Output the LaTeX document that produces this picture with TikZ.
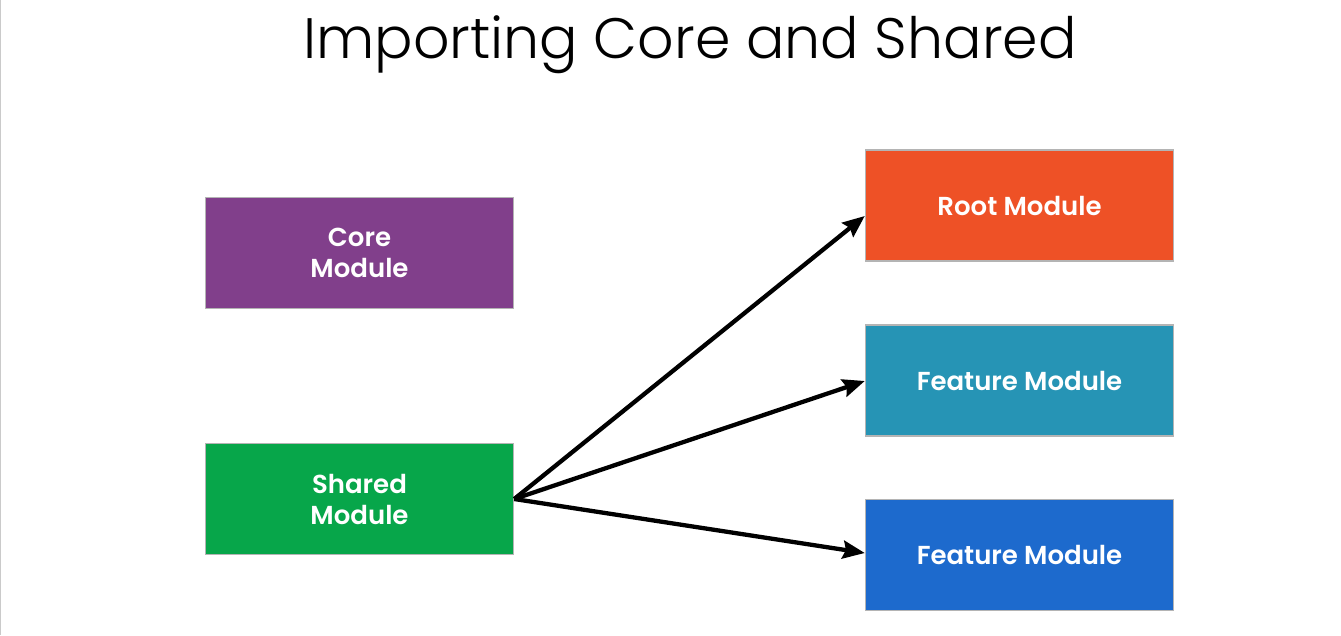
\documentclass[tikz,border=0pt]{standalone}
\usepackage{fontspec}
\setmainfont{Poppins}
\newfontfamily\titlefont{Poppins Light}
\newfontfamily\boxfont{Poppins SemiBold}
\usetikzlibrary{arrows.meta}
\definecolor{corepurple}{HTML}{813F8B}
\definecolor{sharedgreen}{HTML}{07A64A}
\definecolor{rootorange}{HTML}{EE5126}
\definecolor{featteal}{HTML}{2694B5}
\definecolor{featblue}{HTML}{1D6ACD}
\definecolor{edgegray}{HTML}{B4B4B4}
\tikzset{
  x=1pt, y=-1pt,
  modbox/.style={draw=edgegray, line width=1.5pt, minimum width=308pt, minimum height=111pt,
    inner sep=0pt, align=center, text=white, font=\boxfont\fontsize{26}{31}\selectfont},
  imp/.style={line width=4.3pt, -{Stealth[length=22pt,width=18pt,inset=3pt]}},
}
\begin{document}
\begin{tikzpicture}
\useasboundingbox (0,0) rectangle (1341,635);
\fill[white] (0,0) rectangle (1341,635);
\draw[edgegray!70, line width=1pt] (0.5,0) -- (0.5,635);
\node[font=\titlefont\fontsize{57}{66}\selectfont, anchor=base] (title) at (690,58) {Importing Core and Shared};
\node[modbox, fill=corepurple] (core) at (359.5,253) {Core\\Module};
\node[modbox, fill=sharedgreen] (shared) at (359.5,499) {Shared\\Module};
\node[modbox, fill=rootorange] (root) at (1019.5,205.5) {Root Module};
\node[modbox, fill=featteal] (feat1) at (1019.5,380.5) {Feature Module};
\node[modbox, fill=featblue] (feat2) at (1019.5,555) {Feature Module};
\draw[imp] (shared.east) -- (root.west |- 0,216);
\draw[imp] (shared.east) -- (feat1.west |- 0,381);
\draw[imp] (shared.east) -- (feat2.west |- 0,553);
\end{tikzpicture}
\end{document}
